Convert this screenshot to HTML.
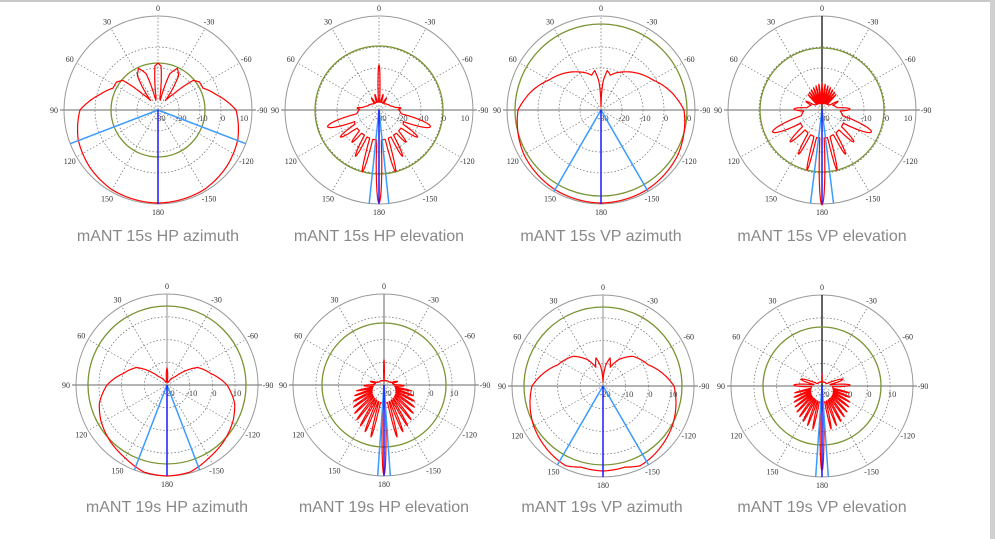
<!DOCTYPE html>
<html><head><meta charset="utf-8">
<style>
html,body{margin:0;padding:0;background:#fff;}
body{width:995px;height:539px;overflow:hidden;position:relative;}
#topbar{position:absolute;left:0;top:0;width:995px;height:2px;background:#c8c8c8;}
#side{position:absolute;right:0;top:0;width:5px;height:539px;background:#d0d0d0;}
.t{position:absolute;font-family:"Liberation Sans",sans-serif;font-size:16px;color:#888;width:240px;text-align:center;}
svg{position:absolute;left:0;top:0;}
</style></head><body>
<div id="topbar"></div><div id="side"></div>
<svg id="s" width="995" height="539" xmlns="http://www.w3.org/2000/svg"></svg>
<div class="t" style="left:38px;top:228px">mANT 15s HP azimuth</div>
<div class="t" style="left:259px;top:228px">mANT 15s HP elevation</div>
<div class="t" style="left:481px;top:228px">mANT 15s VP azimuth</div>
<div class="t" style="left:702px;top:228px">mANT 15s VP elevation</div>
<div class="t" style="left:47px;top:499px">mANT 19s HP azimuth</div>
<div class="t" style="left:264px;top:499px">mANT 19s HP elevation</div>
<div class="t" style="left:482px;top:499px">mANT 19s VP azimuth</div>
<div class="t" style="left:702px;top:499px">mANT 19s VP elevation</div>
<script>
var s=document.getElementById('s'),out='';
function P(cx,cy,r,t){return [cx-r*Math.sin(t*Math.PI/180),cy-r*Math.cos(t*Math.PI/180)];}
function sym(a){var o=[];a.forEach(function(l){o.push(l);if(l[0]!==0&&l[0]!==180)o.push([-l[0],l[1],l[2]]);});return o;}
function spikes(from,to,step,rf,w){var o=[];for(var a=from;a<=to;a+=step){o.push([a,rf(a),w]);}return o;}
function interp(cp,a){a=Math.abs(a);for(var i=1;i<cp.length;i++){if(a<=cp[i][0]){var t=(a-cp[i-1][0])/(cp[i][0]-cp[i-1][0]);return cp[i-1][1]+t*(cp[i][1]-cp[i-1][1]);}}return cp[cp.length-1][1];}
function plot(c){
 var cx=c.cx,cy=c.cy,R=c.R,g=c.ring;
 for(var i=1;i<=3;i++) out+='<circle cx="'+cx+'" cy="'+cy+'" r="'+(g*i)+'" fill="none" stroke="#666" stroke-width="0.7" stroke-dasharray="1.5,2"/>';
 for(var a=0;a<360;a+=30){ if(a%180==90)continue; var p=P(cx,cy,R,a);
  out+='<line x1="'+cx+'" y1="'+cy+'" x2="'+p[0].toFixed(1)+'" y2="'+p[1].toFixed(1)+'" stroke="#666" stroke-width="0.7" stroke-dasharray="1.5,2"/>';}
 out+='<circle cx="'+cx+'" cy="'+cy+'" r="'+R+'" fill="none" stroke="#999" stroke-width="1"/>';
 out+='<line x1="'+(cx-R-4)+'" y1="'+cy+'" x2="'+(cx+R+4)+'" y2="'+cy+'" stroke="#888" stroke-width="1.2"/>';
 if(c.vert) out+='<line x1="'+cx+'" y1="'+(cy-R)+'" x2="'+cx+'" y2="'+cy+'" stroke="'+c.vert+'" stroke-width="1.3"/>';
 out+='<circle cx="'+cx+'" cy="'+cy+'" r="'+c.green+'" fill="none" stroke="#7a9433" stroke-width="1.3"/>';
 var labs=[[0,'0'],[30,'30'],[60,'60'],[90,'90'],[120,'120'],[150,'150'],[180,'180'],[-30,'-30'],[-60,'-60'],[-90,'-90'],[-120,'-120'],[-150,'-150']];
 labs.forEach(function(l){var p=P(cx,cy,R+(Math.abs(l[0])==90?10:8),l[0]);
  out+='<text x="'+p[0].toFixed(1)+'" y="'+(p[1]+3).toFixed(1)+'" font-family="Liberation Serif,serif" font-size="8" fill="#333" text-anchor="middle">'+l[1]+'</text>';});
 c.rl.forEach(function(t,i){out+='<text x="'+(cx+g*i+2)+'" y="'+(cy+11)+'" font-family="Liberation Serif,serif" font-size="8.5" fill="#444" text-anchor="middle">'+t+'</text>';});
 var pts=[];for(var a=-180;a<=180;a+=0.5){var r=c.base?interp(c.base,a):2;(c.lobes||[]).forEach(function(l){var d=a-l[0];if(d>180)d-=360;if(d<-180)d+=360;var v=l[1]*Math.exp(-Math.pow(d/l[2],2));if(v>r)r=v;});
  var p=P(cx,cy,r,a);pts.push(p[0].toFixed(1)+','+p[1].toFixed(1));}
 out+='<polygon points="'+pts.join(' ')+'" fill="none" stroke="#f00" stroke-width="1.2" stroke-linejoin="round"/>';
 c.blue.forEach(function(a){var p=P(cx,cy,R,a);out+='<line x1="'+cx+'" y1="'+cy+'" x2="'+p[0].toFixed(1)+'" y2="'+p[1].toFixed(1)+'" stroke="#3b9bff" stroke-width="1.5"/>';});
 var p=P(cx,cy,R,180);out+='<line x1="'+cx+'" y1="'+cy+'" x2="'+p[0]+'" y2="'+p[1]+'" stroke="#1a1aff" stroke-width="1.5"/>';
}
var rl1=['-30','-20','-10','0','10'],rl2=['-20','-10','0','10'];
plot({cx:158,cy:110,R:94,ring:21,green:47,rl:rl1,blue:[111,-111],
 base:[[0,47],[4,44],[9,12],[13,10],[18,38],[25,46],[31,40],[38,12],[44,22],[50,46],[56,50],[64,50],[75,60],[90,78],[110,85],[130,89],[150,92],[180,93]]});
plot({cx:379,cy:110,R:94,ring:21,green:64,rl:rl1,blue:[174,186],
 base:[[0,8],[40,8],[70,12],[90,20],[120,28],[170,30],[180,30]],
 lobes:sym([[0,45,3],[15,16,4],[32,14,5],[85,22,7],[108,54,9],[125,47,6],[140,42,5],[153,52,4],[165,64,3.5],[180,93,4]])});
plot({cx:601,cy:110,R:94,ring:21,green:86,rl:rl1,blue:[150,-150],
 base:[[0,3],[4,28],[9,40],[15,36],[22,40],[32,45],[45,52],[60,60],[75,72],[90,83],[120,89],[150,92],[180,93]]});
plot({cx:822,cy:110,R:94,ring:21,green:62,rl:rl1,blue:[173,187],vert:'#111',
 base:[[0,6],[50,8],[80,15],[120,25],[170,28],[180,28]],
 lobes:sym(spikes(0,42,7,function(a){return 27-a*0.15;},2).concat([[62,18,6],[88,28,8],[114,54,9],[135,45,6],[152,50,4],[166,62,3],[180,95,4]]))});
plot({cx:167,cy:385,R:91,ring:22.7,green:79,rl:rl2,blue:[159,-159],vert:'#aaa',
 base:[[0,17],[3,12],[7,3],[25,3],[45,12],[60,35],[75,45],[90,60],[105,70],[118,75],[135,80],[150,84],[165,90],[180,91]]});
plot({cx:384,cy:385,R:91,ring:22.7,green:62,rl:rl2,blue:[176,184],vert:'#888',
 base:[[0,4],[60,6],[90,10],[130,15],[170,18],[180,18]],
 lobes:sym([[0,25,2],[75,14,6],[92,20,5]].concat(spikes(102,170,8,function(a){return 28+(a-102)*0.4;},2.5)).concat([[180,90,3]]))});
plot({cx:603,cy:386,R:91,ring:22.7,green:79,rl:rl2,blue:[150,-150],vert:'#aaa',
 base:[[0,4],[7,20],[14,29],[21,20],[30,30],[45,42],[65,50],[90,71],[120,80],[145,86],[155,88],[165,84],[180,85]]});
plot({cx:822,cy:386,R:91,ring:22.7,green:59,rl:rl2,blue:[176,184],vert:'#111',
 base:[[0,4],[60,5],[90,10],[130,14],[170,16],[180,16]],
 lobes:sym([[0,12,2],[72,22,7],[88,28,6]].concat(spikes(104,170,8,function(a){return 28+(a-104)*0.25;},2.5)).concat([[180,85,3]]))});
s.innerHTML=out;
</script>
</body></html>
